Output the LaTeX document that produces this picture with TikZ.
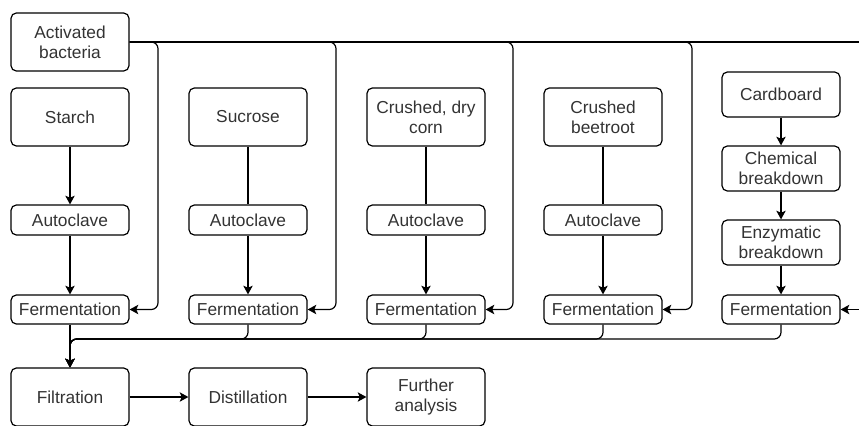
\documentclass[tikz,border=0pt]{standalone}
\usepackage{fontspec}
\setmainfont{Liberation Sans}
\usetikzlibrary{arrows.meta}
\begin{document}
\begin{tikzpicture}[x=0.75pt,y=-0.75pt,
  box/.style 2 args={draw, rounded corners=4pt, align=center, inner sep=0pt,
    minimum width=#1*0.75pt, minimum height=#2*0.75pt,
    font=\fontsize{13}{15}\selectfont, text=black!80, line width=0.9pt},
  ln/.style={line width=0.9pt},
  arr/.style={ln, -{Stealth[length=6.5pt,width=7pt,inset=1.5pt]}},
  rc/.style={rounded corners=5pt}]
\clip (0,0) rectangle (859,425);
% top
\node[box={118}{58}] (act) at (70,42) {Activated\\bacteria};
% column 1
\node[box={118}{58}] (src1) at (70,117) {Starch};
\node[box={118}{30}] (ac1) at (70,220) {Autoclave};
\node[box={118}{29}] (f1) at (70,309.5) {Fermentation};
% column 2
\node[box={118}{58}] (src2) at (248,117) {Sucrose};
\node[box={118}{30}] (ac2) at (248,220) {Autoclave};
\node[box={118}{29}] (f2) at (248,309.5) {Fermentation};
% column 3
\node[box={118}{58}] (src3) at (426,117) {Crushed, dry\\corn};
\node[box={118}{30}] (ac3) at (426,220) {Autoclave};
\node[box={118}{29}] (f3) at (426,309.5) {Fermentation};
% column 4
\node[box={118}{58}] (src4) at (603,117) {Crushed\\beetroot};
\node[box={118}{30}] (ac4) at (603,220) {Autoclave};
\node[box={118}{29}] (f4) at (603,309.5) {Fermentation};
% column 5
\node[box={118}{45}] (cb) at (781,94.5) {Cardboard};
\node[box={118}{45}] (chem) at (781,168.5) {Chemical\\breakdown};
\node[box={118}{45}] (enz) at (781,242.5) {Enzymatic\\breakdown};
\node[box={118}{29}] (f5) at (781,309.5) {Fermentation};
% bottom row
\node[box={118}{58}] (filt) at (70,397) {Filtration};
\node[box={118}{58}] (dist) at (248,397) {Distillation};
\node[box={118}{58}] (fa) at (426,397) {Further\\analysis};
% free ends
\coordinate (bR) at (859,42);
\coordinate (fR) at (859,309.5);
% bacteria feed
\draw[ln] (act.east) -- (bR);
\draw[arr,rc] (act.east) -- (158,42) -- (158,309.5) -- (f1.east);
\draw[arr,rc] (act.east) -- (336,42) -- (336,309.5) -- (f2.east);
\draw[arr,rc] (act.east) -- (513,42) -- (513,309.5) -- (f3.east);
\draw[arr,rc] (act.east) -- (692,42) -- (692,309.5) -- (f4.east);
\draw[arr] (fR) -- (f5.east);
% column flows
\draw[arr] (src1) -- (ac1);
\draw[ln] (src2) -- (ac2);
\draw[ln] (src3) -- (ac3);
\draw[ln] (src4) -- (ac4);
\draw[arr] (ac1) -- (f1);
\draw[arr] (ac2) -- (f2);
\draw[arr] (ac3) -- (f3);
\draw[arr] (ac4) -- (f4);
\draw[arr] (cb) -- (chem);
\draw[arr] (chem) -- (enz);
\draw[arr] (enz) -- (f5);
% collection
\draw[arr] (f1) -- (filt);
\draw[arr,rc] (f2.south) -- (248,339) -- (70,339) -- (filt.north);
\draw[arr,rc] (f3.south) -- (426,339) -- (70,339) -- (filt.north);
\draw[arr,rc] (f4.south) -- (603,339) -- (70,339) -- (filt.north);
\draw[arr,rc] (f5.south) -- (781,339) -- (70,339) -- (filt.north);
% bottom chain
\draw[arr] (filt) -- (dist);
\draw[arr] (dist) -- (fa);
\end{tikzpicture}
\end{document}
